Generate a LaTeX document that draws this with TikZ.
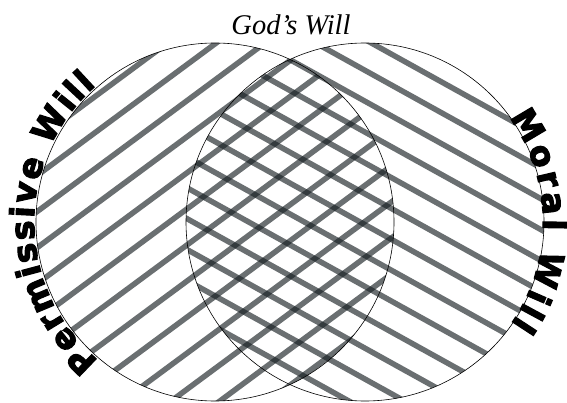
\documentclass[tikz,border=0pt]{standalone}
\usepackage{fontspec}
\setmainfont{Liberation Serif}
\newfontfamily\lblfont{DejaVu Sans}
\usetikzlibrary{decorations.text}
\definecolor{stripecol}{RGB}{22,30,34}
\newcommand{\heavytext}{\special{pdf:code 2 Tr 1.1 w}}
\tikzset{
  stripe/.style={line width=5.5pt, draw=stripecol, draw opacity=0.64},
  ring/.style={draw=black, line width=0.6pt},
  arclabel/.style={decorate, decoration={text along path, text align=fit to path, text={|\lblfont\bfseries\fontsize{33}{38}\selectfont\heavytext|#1}}}
}
\begin{document}
\begin{tikzpicture}[x=1pt,y=1pt]
\useasboundingbox (0,0) rectangle (567,402);
\fill[white] (0,0) rectangle (567,402);
\coordinate (cl) at (215,180);
\coordinate (cr) at (365,180);
% left circle stripes
\begin{scope}
  \clip (cl) circle[radius=179];
  \begin{scope}[rotate=36.5]
    \foreach \k in {-13,...,4} \draw[stripe] (-900,131+29*\k) -- (900,131+29*\k);
  \end{scope}
\end{scope}
% right circle stripes
\begin{scope}
  \clip (cr) circle[radius=179];
  \begin{scope}[rotate=-29]
    \foreach \k in {-14,...,4} \draw[stripe] (-900,467+27*\k) -- (900,467+27*\k);
  \end{scope}
\end{scope}
\draw[ring] (cl) circle[radius=179];
\draw[ring] (cr) circle[radius=179];
% labels
\path[arclabel={Permissive Will}] (cl) ++(230:181) arc[start angle=230, end angle=131, radius=181];
\path[arclabel={Moral Will}] (cr) ++(36:178) arc[start angle=36, end angle=-35, radius=178];
\node[anchor=base, font=\itshape\fontsize{28.5}{32}\selectfont, inner sep=0pt] (god) at (291,367.5) {God’s Will};
\end{tikzpicture}
\end{document}
